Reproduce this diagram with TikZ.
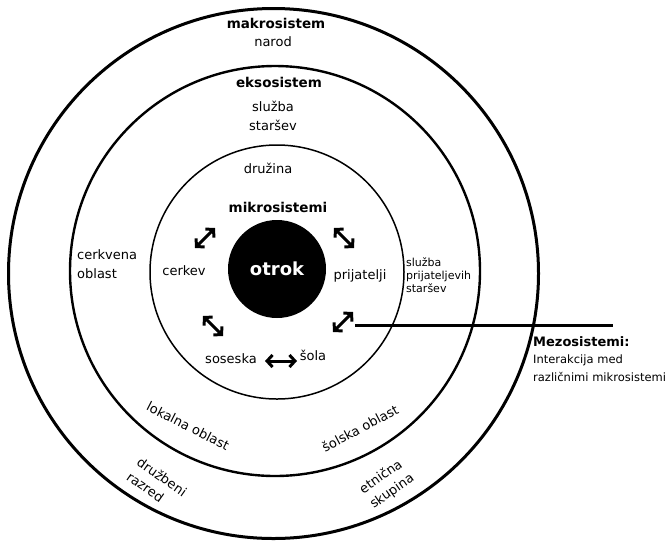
\documentclass[tikz,border=0pt]{standalone}
\usepackage{fontspec}
\setmainfont{DejaVu Sans}
\usetikzlibrary{arrows.meta}

\begin{document}
\begin{tikzpicture}[x=1pt,y=-1pt,
        lbl/.style={font=\fontsize{13}{19}\selectfont, inner sep=0pt, align=center},
        hdr/.style={font=\fontsize{13.5}{16}\selectfont\bfseries, inner sep=0pt},
        sml/.style={font=\fontsize{11}{13}\selectfont, inner sep=0pt, align=left},
        dbl/.style={line width=3pt, {Straight Barb[length=5.5pt,width=12pt]}-{Straight Barb[length=5.5pt,width=12pt]}}]
        \useasboundingbox (0,0) rectangle (672,542);
        \draw[line width=3pt] (273.5,273.5) circle[radius=265pt];
        \draw[line width=2.4pt] (275,271) circle[radius=205pt];
        \draw[line width=1.5pt] (277,272) circle[radius=127pt];
        \node[circle, fill=black, minimum size=98pt, inner sep=0pt, text=white,
            font=\fontsize{18}{20}\selectfont\bfseries] (otrok) at (277,269) {otrok};
        \node[hdr] (makro) at (276,23) {makrosistem};
        \node[lbl] (narod) at (273,42) {narod};
        \node[hdr] (ekso) at (279,82) {eksosistem};
        \node[lbl] (sluzba) at (273,115.5) {služba\\staršev};
        \node[lbl] (druzina) at (268,168) {družina};
        \node[hdr] (mikro) at (278,207) {mikrosistemi};
        \node[lbl] (cerkev) at (184,271) {cerkev};
        \node[lbl] (prijatelji) at (360,276) {prijatelji};
        \node[lbl] (soseska) at (231,359) {soseska};
        \node[lbl] (sola) at (313,355) {šola};
        \node[lbl, align=left, anchor=west] (cerkvena) at (77,264) {cerkvena\\oblast};
        \node[sml, anchor=west] (sluzbapr) at (406,275) {služba\\prijateljevih\\staršev};
        \node[lbl, rotate=-27] (lokalna) at (188,426) {lokalna oblast};
        \node[lbl, rotate=28] (solska) at (360,428) {šolska oblast};
        \node[lbl, rotate=-35, align=left, font=\fontsize{13}{18}\selectfont] (druzbeni) at (157,484) {družbeni\\razred};
        \node[lbl, rotate=35, align=left, font=\fontsize{13}{18}\selectfont] (etnicna) at (387,484) {etnična\\skupina};
        \coordinate (ulA) at (195,248);
        \coordinate (ulB) at (215,228);
        \coordinate (urA) at (334,228);
        \coordinate (urB) at (354,248);
        \coordinate (llA) at (203,316);
        \coordinate (llB) at (223,336);
        \coordinate (lrA) at (333,332);
        \coordinate (lrB) at (353,312);
        \coordinate (hzA) at (265,361);
        \coordinate (hzB) at (297,361);
        \draw[dbl] (ulA) -- (ulB);
        \draw[dbl] (urA) -- (urB);
        \draw[dbl] (llA) -- (llB);
        \draw[dbl] (lrA) -- (lrB);
        \draw[dbl] (hzA) -- (hzB);
        \coordinate (mezoA) at (355,325);
        \coordinate (mezoB) at (613,325);
        \draw[line width=3pt] (mezoA) -- (mezoB);
        \node[sml, anchor=north west, font=\fontsize{11.5}{17.5}\selectfont] (mezo) at (533,336)
            {{\fontsize{13}{17.5}\selectfont\bfseries Mezosistemi:}\\Interakcija med\\različnimi mikrosistemi};
    \end{tikzpicture}
\end{document}
